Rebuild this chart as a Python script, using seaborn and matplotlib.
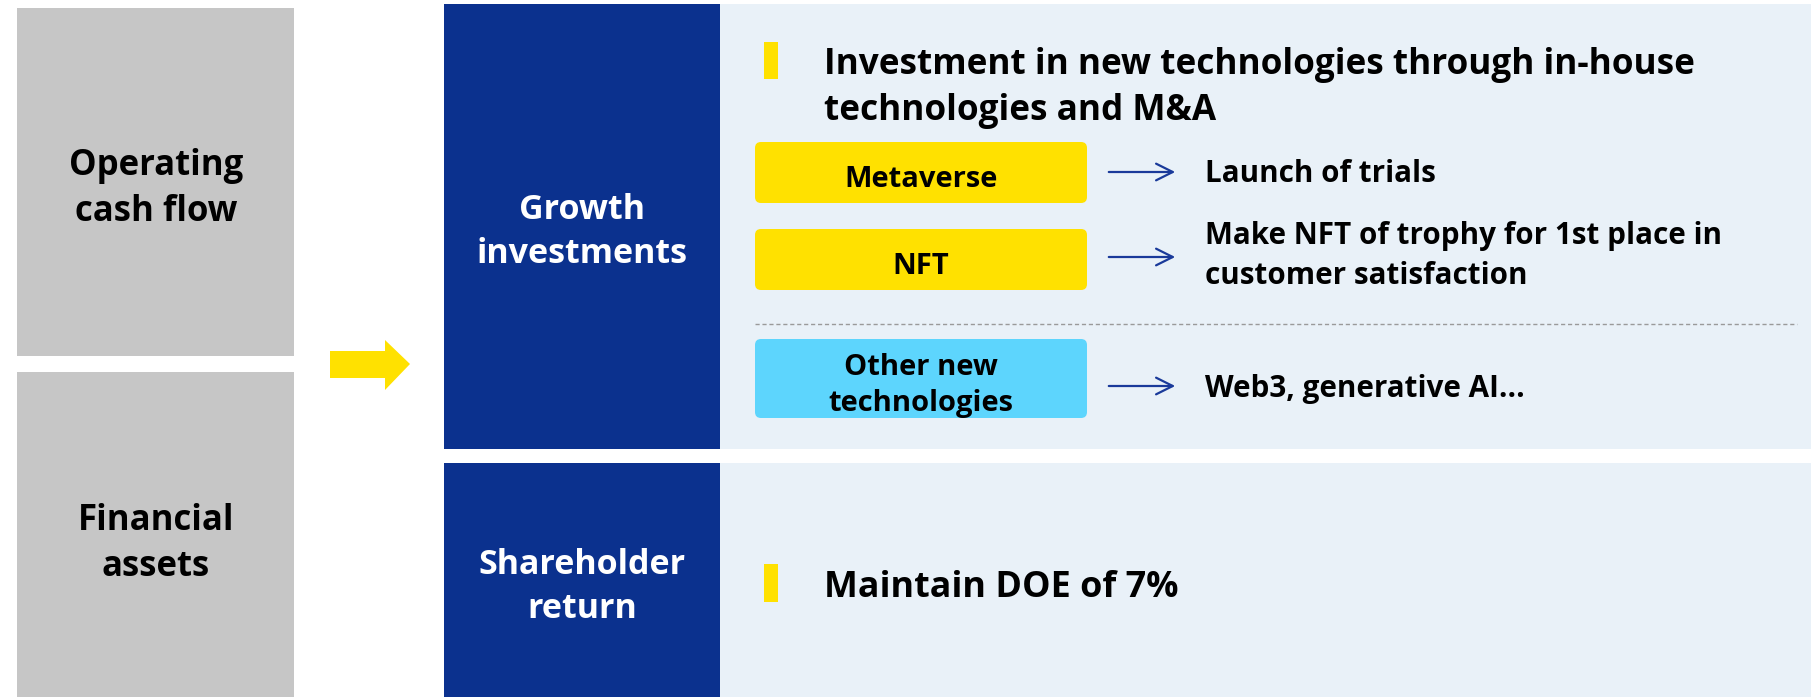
import matplotlib.pyplot as plt
from matplotlib.patches import Rectangle, FancyBboxPatch, Polygon
import seaborn as sns

# text content of the diagram
source_labels = ["Operating\ncash flow", "Financial\nassets"]
use_labels = ["Growth\ninvestments", "Shareholder\nreturn"]
growth_heading = "Investment in new technologies through in-house\ntechnologies and M&A"
tech_items = ["Metaverse", "NFT", "Other new\ntechnologies"]
tech_notes = ["Launch of trials",
              "Make NFT of trophy for 1st place in\ncustomer satisfaction",
              "Web3, generative AI..."]
return_heading = "Maintain DOE of 7%"

sns.set_theme(style="white")
plt.rcParams['font.family'] = ['Open Sans', 'DejaVu Sans']

GRAY = "#c6c6c6"
NAVY = "#0b318e"
PANEL = "#e9f1f8"
YELLOW = "#ffe100"
CYAN = "#5dd5fd"
ARROW = "#1a3a9a"

fig = plt.figure(figsize=(18.11, 6.97), dpi=100)
ax = fig.add_axes([0, 0, 1, 1])
ax.set_xlim(0, 1811)
ax.set_ylim(697, 0)
ax.axis("off")

# left gray boxes
for (y0, y1), ty, lab in zip([(8, 356), (372, 697)], [189, 544], source_labels):
    ax.add_patch(Rectangle((17, y0), 277, y1 - y0, color=GRAY, lw=0))
    ax.text(156, ty, lab, ha="center", va="center",
            fontsize=25, fontweight="bold", color="black", linespacing=1.35)

# yellow block arrow
ax.add_patch(Polygon([(330, 351), (385, 351), (385, 340), (410, 364),
                      (385, 390), (385, 378), (330, 378)], closed=True,
                     color=YELLOW, lw=0))

# navy boxes and light panels
rows = [(4, 449), (463, 697)]
for (y0, y1), lab in zip(rows, use_labels):
    ax.add_patch(Rectangle((720, y0), 1811 - 720, y1 - y0, color=PANEL, lw=0))
    ax.add_patch(Rectangle((444, y0), 276, y1 - y0, color=NAVY, lw=0))
for c, lab in zip([232, 587], use_labels):
    ax.text(582, c, lab, ha="center", va="center", fontsize=24.5,
            fontweight="bold", color="white", linespacing=1.35)

# headings with yellow markers
ax.add_patch(Rectangle((764, 42), 14, 37, color=YELLOW, lw=0))
ax.text(824, 88, growth_heading, ha="left", va="center", fontsize=25.3,
        fontweight="bold", color="black", linespacing=1.4)
ax.add_patch(Rectangle((764, 564), 14, 38, color=YELLOW, lw=0))
ax.text(824, 588, return_heading, ha="left", va="center", fontsize=25.8,
        fontweight="bold", color="black")

# technology boxes, arrows and notes
box_rows = [(142, 203), (229, 290), (339, 418)]
box_colors = [YELLOW, YELLOW, CYAN]
arrow_y = [172, 257, 386]
note_y = [174, 256, 389]
note_ls = [1.2, 1.4, 1.2]
for (y0, y1), item, note, col, ay, ny, nls in zip(box_rows, tech_items, tech_notes,
                                                  box_colors, arrow_y, note_y, note_ls):
    ax.add_patch(FancyBboxPatch((755, y0), 332, y1 - y0,
                                boxstyle="round,pad=0,rounding_size=6",
                                fc=col, ec="none"))
    mid = (y0 + y1) / 2
    ax.text(921, mid + 7, item, ha="center", va="center", fontsize=21,
            fontweight="bold", color="black", linespacing=1.36)
    ax.annotate("", xy=(1178, ay), xytext=(1106, ay),
                arrowprops=dict(arrowstyle="->", color=ARROW, lw=1.6,
                                mutation_scale=30))
    ax.text(1205, ny, note, ha="left", va="center", fontsize=21.3,
            fontweight="bold", color="black", linespacing=nls)

# dashed separator
ax.plot([755, 1797], [324, 324], ls=(0, (3, 2)), color="#9a9a9a", lw=1)

fig.savefig("out.png", dpi=100)
